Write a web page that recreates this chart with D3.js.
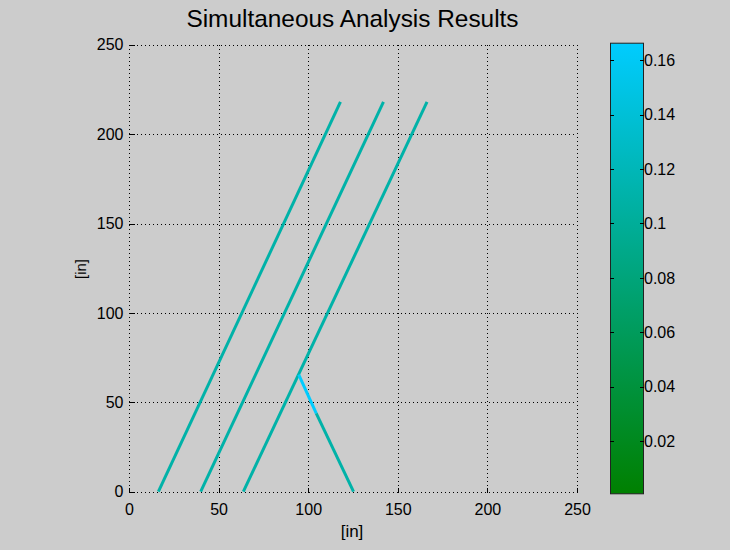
<!DOCTYPE html>
<html>
<head>
<meta charset="utf-8">
<script src="https://cdn.jsdelivr.net/npm/d3@7"></script>
<style>
  body { margin: 0; background: #cccccc; }
  svg { display: block; font-family: "Liberation Sans", Arial, sans-serif; }
</style>
</head>
<body>
<div id="chart"></div>
<script>
// three parallel members (start at y=0, end at y=topY)
const memberStartX = [16.4, 40, 63.8];
const memberEndX = [118, 142, 166.3];
const memberTopY = 218;
const memberValue = 0.11;

// diagonal brace from member 3 down to ground, split in two parts
const braceX = [94.7, 104.5, 125.3];
const braceY = [65.5, 43.8, 0];
const braceValues = [0.166, 0.11];

const xTicks = [0, 50, 100, 150, 200, 250];
const yTicks = [0, 50, 100, 150, 200, 250];
const cbTicks = [0.02, 0.04, 0.06, 0.08, 0.1, 0.12, 0.14, 0.16];
const cbRange = [0.0009, 0.1664];

const W = 730, H = 550;
const plot = {left: 129, right: 577, top: 44.7, bottom: 491.7};
const cb = {left: 610, right: 643, top: 42.7, bottom: 493.3};

const svg = d3.select("#chart").append("svg")
  .attr("width", W).attr("height", H);

svg.append("rect").attr("width", W).attr("height", H).attr("fill", "#cccccc");

const x = d3.scaleLinear().domain([0, 250]).range([plot.left, plot.right]);
const y = d3.scaleLinear().domain([0, 250]).range([plot.bottom, plot.top]);

const color = d3.scaleLinear().domain(cbRange)
  .range(["rgb(0,128,0)", "rgb(0,204,255)"]);

// grid
const grid = svg.append("g")
  .attr("stroke", "#000").attr("stroke-width", 1)
  .attr("stroke-dasharray", "1,3").attr("shape-rendering", "crispEdges");
xTicks.forEach(t => {
  grid.append("line")
    .attr("x1", Math.round(x(t)) + 0.5).attr("x2", Math.round(x(t)) + 0.5)
    .attr("y1", plot.top).attr("y2", plot.bottom);
});
yTicks.forEach(t => {
  grid.append("line")
    .attr("y1", Math.round(y(t)) + 0.5).attr("y2", Math.round(y(t)) + 0.5)
    .attr("x1", plot.left).attr("x2", plot.right);
});

// axes (ticks inward, no domain line)
const xAxis = svg.append("g")
  .attr("transform", `translate(0,${Math.round(plot.bottom) + 0.5})`)
  .call(d3.axisBottom(x).tickValues(xTicks).tickSizeInner(-5).tickSizeOuter(0).tickPadding(11));
const yAxis = svg.append("g")
  .attr("transform", `translate(${Math.round(plot.left) + 0.5},0)`)
  .call(d3.axisLeft(y).tickValues(yTicks).tickSizeInner(-5).tickSizeOuter(0).tickPadding(11));
[xAxis, yAxis].forEach(a => {
  a.select(".domain").remove();
  a.selectAll("line").attr("stroke", "#000").attr("shape-rendering", "crispEdges");
  a.selectAll("text").attr("font-size", 16).attr("fill", "#000")
    .attr("font-family", "Liberation Sans, Arial, sans-serif");
});
yAxis.selectAll("text").attr("dx", 5);

// members
const segs = [];
memberStartX.forEach((sx, i) => {
  segs.push({x1: sx, y1: 0, x2: memberEndX[i], y2: memberTopY, v: memberValue});
});
for (let i = 0; i < braceValues.length; i++) {
  segs.push({x1: braceX[i], y1: braceY[i], x2: braceX[i + 1], y2: braceY[i + 1], v: braceValues[i]});
}
svg.append("g").selectAll("line").data(segs).enter().append("line")
  .attr("x1", d => x(d.x1)).attr("y1", d => y(d.y1))
  .attr("x2", d => x(d.x2)).attr("y2", d => y(d.y2))
  .attr("stroke", d => color(d.v)).attr("stroke-width", 3);

// title and labels
svg.append("text").attr("x", 352.5).attr("y", 27).attr("text-anchor", "middle")
  .attr("font-size", 24.4).text("Simultaneous Analysis Results");
svg.append("text").attr("x", 352).attr("y", 536.5).attr("text-anchor", "middle")
  .attr("font-size", 17).text("[in]");
svg.append("text").attr("transform", "translate(86,269) rotate(-90)")
  .attr("text-anchor", "middle").attr("font-size", 15).text("[in]");

// colorbar
const cy = d3.scaleLinear().domain(cbRange).range([cb.bottom, cb.top]);
const grad = svg.append("defs").append("linearGradient").attr("id", "cbgrad")
  .attr("x1", 0).attr("y1", 1).attr("x2", 0).attr("y2", 0);
grad.append("stop").attr("offset", 0).attr("stop-color", color(cbRange[0]));
grad.append("stop").attr("offset", 1).attr("stop-color", color(cbRange[1]));
svg.append("rect").attr("x", cb.left + 0.5).attr("y", cb.top + 0.5)
  .attr("width", cb.right - cb.left).attr("height", cb.bottom - cb.top)
  .attr("fill", "url(#cbgrad)").attr("stroke", "#222").attr("stroke-width", 1);

const cbg = svg.append("g").attr("stroke", "#000").attr("shape-rendering", "crispEdges");
cbTicks.forEach(t => {
  const ty = Math.round(cy(t)) + 0.5;
  cbg.append("line").attr("x1", cb.left).attr("x2", cb.left + 4).attr("y1", ty).attr("y2", ty);
  cbg.append("line").attr("x1", cb.right + 1).attr("x2", cb.right - 3).attr("y1", ty).attr("y2", ty);
});
svg.append("g").selectAll("text").data(cbTicks).enter().append("text")
  .attr("x", cb.right + 1).attr("y", d => cy(d)).attr("dy", "0.35em")
  .attr("font-size", 16).text(d => d3.format("")(+d.toFixed(2)));
</script>
</body>
</html>
